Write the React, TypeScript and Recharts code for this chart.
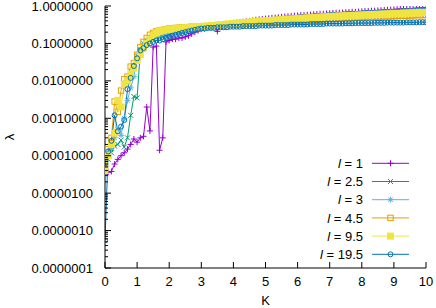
import { LineChart, Line, XAxis, YAxis } from 'recharts';

// K grid (x values)
const K = [
  0, 0.1, 0.2, 0.3, 0.4, 0.5, 0.6, 0.7, 0.8, 0.9,
  1, 1.1, 1.2, 1.3, 1.4, 1.5, 1.6, 1.7, 1.8, 1.9,
  2, 2.1, 2.2, 2.3, 2.4, 2.5, 2.6, 2.7, 2.8, 2.9,
  3, 3.1, 3.2, 3.3, 3.4, 3.5, 3.6, 3.7, 3.8, 3.9,
  4, 4.1, 4.2, 4.3, 4.4, 4.5, 4.6, 4.7, 4.8, 4.9,
  5, 5.1, 5.2, 5.3, 5.4, 5.5, 5.6, 5.7, 5.8, 5.9,
  6, 6.1, 6.2, 6.3, 6.4, 6.5, 6.6, 6.7, 6.8, 6.9,
  7, 7.1, 7.2, 7.3, 7.4, 7.5, 7.6, 7.7, 7.8, 7.9,
  8, 8.1, 8.2, 8.3, 8.4, 8.5, 8.6, 8.7, 8.8, 8.9,
  9, 9.1, 9.2, 9.3, 9.4, 9.5, 9.6, 9.7, 9.8, 9.9,
  10,
];

// lambda for each l
const L_1 = [
  3.0e-5, 3.6e-5, 3.8e-5, 6.0e-5, 8.0e-5, 1.0e-4, 1.2e-4, 1.5e-4, 2.0e-4, 2.8e-4,
  2.3e-4, 3.0e-4, 3.3e-4, 2.0e-3, 4.6e-4, 0.08, 0.085, 1.4e-4, 3.0e-4, 0.11,
  0.12, 0.13, 0.13, 0.14, 0.14, 0.15, 0.16, 0.18, 0.2, 0.22,
  0.24, 0.25, 0.27, 0.28, 0.29, 0.21, 0.31, 0.32, 0.33, 0.34,
  0.35, 0.36, 0.37, 0.38, 0.39, 0.4, 0.41, 0.43, 0.44, 0.45,
  0.46, 0.47, 0.48, 0.49, 0.5, 0.51, 0.52, 0.53, 0.54, 0.55,
  0.56, 0.57, 0.57, 0.58, 0.59, 0.6, 0.61, 0.62, 0.62, 0.63,
  0.64, 0.65, 0.66, 0.66, 0.67, 0.68, 0.69, 0.7, 0.7, 0.71,
  0.72, 0.73, 0.74, 0.75, 0.75, 0.76, 0.77, 0.78, 0.79, 0.8,
  0.81, 0.82, 0.83, 0.84, 0.85, 0.85, 0.86, 0.87, 0.88, 0.89,
  0.9,
];
const L_2_5 = [
  5.0e-5, 8.0e-5, 1.2e-4, 1.8e-4, 2.0e-4, 2.6e-4, 1.7e-4, 3.0e-4, 1.2e-3, 3.8e-3,
  3.5e-3, 0.06, 0.1, 0.11, 0.12, 0.13, 0.14, 0.15, 0.15, 0.16,
  0.17, 0.18, 0.19, 0.2, 0.2, 0.21, 0.22, 0.23, 0.24, 0.25,
  0.26, 0.27, 0.28, 0.28, 0.29, 0.3, 0.31, 0.32, 0.33, 0.33,
  0.34, 0.35, 0.36, 0.36, 0.37, 0.38, 0.39, 0.4, 0.4, 0.41,
  0.42, 0.43, 0.44, 0.44, 0.45, 0.46, 0.47, 0.48, 0.48, 0.49,
  0.5, 0.51, 0.52, 0.52, 0.53, 0.54, 0.55, 0.56, 0.56, 0.57,
  0.58, 0.59, 0.6, 0.6, 0.61, 0.62, 0.63, 0.63, 0.64, 0.64,
  0.65, 0.66, 0.67, 0.67, 0.68, 0.69, 0.7, 0.7, 0.71, 0.71,
  0.72, 0.73, 0.74, 0.74, 0.75, 0.76, 0.77, 0.77, 0.78, 0.79,
  0.8,
];
const L_3 = [
  3.0e-5, 1.0e-4, 1.6e-4, 3.0e-4, 5.0e-4, 3.5e-4, 1.0e-3, 3.0e-3, 6.5e-3, 0.013,
  0.05, 0.07, 0.1, 0.12, 0.14, 0.15, 0.16, 0.17, 0.17, 0.18,
  0.19, 0.19, 0.2, 0.21, 0.21, 0.22, 0.23, 0.24, 0.24, 0.25,
  0.26, 0.26, 0.27, 0.28, 0.28, 0.29, 0.3, 0.31, 0.31, 0.32,
  0.33, 0.34, 0.34, 0.35, 0.36, 0.37, 0.38, 0.38, 0.39, 0.4,
  0.41, 0.42, 0.42, 0.43, 0.44, 0.45, 0.46, 0.46, 0.47, 0.48,
  0.49, 0.49, 0.5, 0.51, 0.51, 0.52, 0.53, 0.54, 0.54, 0.55,
  0.56, 0.57, 0.57, 0.58, 0.59, 0.6, 0.6, 0.61, 0.62, 0.62,
  0.63, 0.64, 0.64, 0.65, 0.65, 0.66, 0.67, 0.67, 0.68, 0.69,
  0.7, 0.7, 0.71, 0.72, 0.72, 0.73, 0.74, 0.74, 0.75, 0.75,
  0.76,
];
const L_4_5 = [
  6.0e-5, 1.5e-4, 3.0e-4, 2.8e-3, 1.5e-3, 5.5e-3, 0.011, 0.013, 0.024, 0.03,
  0.05, 0.08, 0.11, 0.14, 0.17, 0.19, 0.21, 0.22, 0.23, 0.24,
  0.25, 0.25, 0.26, 0.26, 0.27, 0.27, 0.27, 0.28, 0.28, 0.28,
  0.28, 0.28, 0.29, 0.29, 0.3, 0.3, 0.3, 0.31, 0.31, 0.32,
  0.32, 0.32, 0.33, 0.33, 0.34, 0.34, 0.35, 0.35, 0.35, 0.36,
  0.36, 0.37, 0.37, 0.38, 0.38, 0.39, 0.39, 0.39, 0.4, 0.4,
  0.41, 0.41, 0.42, 0.42, 0.42, 0.43, 0.43, 0.44, 0.44, 0.45,
  0.45, 0.46, 0.46, 0.47, 0.47, 0.48, 0.48, 0.48, 0.49, 0.49,
  0.5, 0.5, 0.51, 0.51, 0.51, 0.52, 0.52, 0.53, 0.53, 0.53,
  0.54, 0.54, 0.55, 0.55, 0.55, 0.56, 0.56, 0.57, 0.57, 0.57,
  0.58,
];
const L_9_5 = [
  4.0e-5, 1.0e-4, 2.0e-4, 4.0e-4, 3.0e-3, 2.0e-3, 8.0e-3, 0.01, 0.015, 0.022,
  0.035, 0.05, 0.075, 0.1, 0.13, 0.16, 0.19, 0.21, 0.22, 0.23,
  0.24, 0.24, 0.25, 0.25, 0.26, 0.26, 0.27, 0.27, 0.28, 0.28,
  0.28, 0.29, 0.29, 0.3, 0.3, 0.31, 0.32, 0.32, 0.33, 0.33,
  0.34, 0.35, 0.35, 0.36, 0.36, 0.37, 0.38, 0.38, 0.39, 0.39,
  0.4, 0.41, 0.41, 0.42, 0.42, 0.43, 0.44, 0.44, 0.45, 0.45,
  0.46, 0.47, 0.47, 0.48, 0.48, 0.49, 0.5, 0.5, 0.51, 0.51,
  0.52, 0.53, 0.53, 0.54, 0.54, 0.55, 0.55, 0.56, 0.56, 0.57,
  0.57, 0.58, 0.58, 0.59, 0.59, 0.6, 0.6, 0.61, 0.61, 0.62,
  0.62, 0.63, 0.63, 0.64, 0.64, 0.65, 0.65, 0.66, 0.66, 0.67,
  0.67,
];
const L_19_5 = [
  5.5e-7, 1.3e-4, 2.5e-4, 1.2e-3, 4.5e-4, 6.0e-4, 9.0e-4, 6.0e-3, 0.012, 0.025,
  0.04, 0.065, 0.075, 0.09, 0.1, 0.11, 0.12, 0.12, 0.13, 0.14,
  0.15, 0.16, 0.17, 0.18, 0.19, 0.2, 0.21, 0.22, 0.23, 0.24,
  0.25, 0.25, 0.26, 0.26, 0.26, 0.27, 0.27, 0.27, 0.27, 0.28,
  0.28, 0.28, 0.28, 0.29, 0.29, 0.29, 0.29, 0.29, 0.3, 0.3,
  0.3, 0.3, 0.3, 0.31, 0.31, 0.31, 0.31, 0.31, 0.32, 0.32,
  0.32, 0.32, 0.32, 0.32, 0.33, 0.33, 0.33, 0.33, 0.33, 0.34,
  0.34, 0.34, 0.34, 0.34, 0.34, 0.345, 0.345, 0.345, 0.35, 0.35,
  0.35, 0.35, 0.35, 0.35, 0.355, 0.355, 0.355, 0.355, 0.36, 0.36,
  0.36, 0.36, 0.36, 0.36, 0.365, 0.365, 0.365, 0.365, 0.37, 0.37,
  0.37,
];

const X_TICKS = [0, 1, 2, 3, 4, 5, 6, 7, 8, 9, 10];
const Y_MAJOR = [1e-7, 1e-6, 1e-5, 1e-4, 1e-3, 1e-2, 1e-1, 1];
const Y_MINOR = Y_MAJOR.slice(0, -1).flatMap((d) => [2, 3, 4, 5, 6, 7, 8, 9].map((m) => m * d));
const Y_TICKS = [...Y_MAJOR, ...Y_MINOR];

const SERIES = [
  { key: 'l1', label: '1', color: '#9400d3', marker: 'plus', values: L_1 },
  { key: 'l25', label: '2.5', color: '#009e73', marker: 'cross', values: L_2_5 },
  { key: 'l3', label: '3', color: '#56b4e9', marker: 'star', values: L_3 },
  { key: 'l45', label: '4.5', color: '#e69f00', marker: 'square', values: L_4_5 },
  { key: 'l95', label: '9.5', color: '#f0e442', marker: 'fsquare', values: L_9_5 },
  { key: 'l195', label: '19.5', color: '#0072b2', marker: 'circle', values: L_19_5 },
];

const rows = K.map((k, i) => {
  const r: Record<string, number> = { k };
  SERIES.forEach((s) => { r[s.key] = s.values[i]; });
  return r;
});

const FONT = '"Liberation Sans", Arial, sans-serif';

const Marker = ({ x, y, type, color }: { x: number; y: number; type: string; color: string }) => {
  const a = 3;
  if (type === 'plus') return <g stroke={color}><line x1={x - a} x2={x + a} y1={y} y2={y} /><line x1={x} x2={x} y1={y - a} y2={y + a} /></g>;
  if (type === 'cross') return <g stroke={color}><line x1={x - 2.5} x2={x + 2.5} y1={y - 2.5} y2={y + 2.5} /><line x1={x - 2.5} x2={x + 2.5} y1={y + 2.5} y2={y - 2.5} /></g>;
  if (type === 'star') return <g stroke={color}><line x1={x - a} x2={x + a} y1={y} y2={y} /><line x1={x} x2={x} y1={y - a} y2={y + a} /><line x1={x - 2.2} x2={x + 2.2} y1={y - 2.2} y2={y + 2.2} /><line x1={x - 2.2} x2={x + 2.2} y1={y + 2.2} y2={y - 2.2} /></g>;
  if (type === 'square') return <rect x={x - 2.7} y={y - 2.7} width={5.4} height={5.4} fill="none" stroke={color} />;
  if (type === 'fsquare') return <rect x={x - 3} y={y - 3} width={6} height={6} fill={color} stroke={color} />;
  return <circle cx={x} cy={y} r={2.5} fill="none" stroke={color} />;
};

const YTick = (props: any) => {
  const { x, y, payload, side } = props;
  const v = payload.value;
  const major = Y_MAJOR.includes(v);
  const len = major ? 6 : 3;
  const x2 = side === 'left' ? x + len : x - len;
  return (
    <g>
      <line x1={x} x2={x2} y1={y} y2={y} stroke="#000" />
      {side === 'left' && major && (
        <text x={x - 12} y={y + 4.6} textAnchor="end" fontSize={13} fontFamily={FONT} fill="#000">
          {v.toFixed(7)}
        </text>
      )}
    </g>
  );
};

const XTick = (props: any) => {
  const { x, y, payload, side } = props;
  const inner = side === 'bottom' ? y - 6 : y + 6;
  const show = side === 'bottom' || (payload.value > 0 && payload.value < 10);
  return (
    <g>
      {show && <line x1={x} x2={x} y1={y} y2={inner} stroke="#000" />}
      {side === 'bottom' && (
        <text x={x} y={y + 18} textAnchor="middle" fontSize={13} fontFamily={FONT} fill="#000">
          {payload.value}
        </text>
      )}
    </g>
  );
};

const LambdaLabel = (props: any) => {
  const vb = props.viewBox || { x: 0, y: 6, height: 262 };
  const cx = vb.x + 9;
  const cy = vb.y + vb.height / 2;
  return (
    <text x={cx} y={cy} transform={`rotate(-90 ${cx} ${cy})`} textAnchor="middle" dominantBaseline="central" fontSize={13} fontFamily={FONT} fill="#000">
      λ
    </text>
  );
};

const LegendBox = () => (
  <svg width={436} height={308} style={{ position: 'absolute', left: 0, top: 0, pointerEvents: 'none' }}>
    {SERIES.map((s, i) => {
      const y = 163.3 + i * 18.2;
      return (
        <g key={s.key}>
          <text x={363} y={y + 4.6} textAnchor="end" fontSize={13} fontFamily={FONT} fill="#000">
            <tspan fontStyle="italic">l</tspan> = {s.label}
          </text>
          <line x1={372} x2={409} y1={y} y2={y} stroke={s.color} />
          <Marker x={390.5} y={y} type={s.marker} color={s.color} />
        </g>
      );
    })}
  </svg>
);

export default function App() {
  return (
    <div style={{ position: 'fixed', left: 0, top: 0, width: 436, height: 308, background: '#fff', fontFamily: FONT }}>
      <LineChart width={436} height={308} data={rows} margin={{ top: 6, right: 10, bottom: 0, left: 0 }}>
        <XAxis
          dataKey="k" type="number" domain={[0, 10]} ticks={X_TICKS} interval={0}
          height={40} tickSize={0} tickMargin={0} stroke="#000" allowDataOverflow
          tick={<XTick side="bottom" />}
          label={{ value: 'K', position: 'insideBottom', offset: 3, fontSize: 13, fill: '#000' }}
        />
        <XAxis
          xAxisId="t" orientation="top" type="number" domain={[0, 10]} ticks={X_TICKS} interval={0}
          height={0} tickSize={0} tickMargin={0} stroke="#000" allowDataOverflow
          tick={<XTick side="top" />}
        />
        <YAxis
          type="number" scale="log" domain={[1e-7, 1]} ticks={Y_TICKS} interval={0} allowDataOverflow
          width={105} tickSize={0} tickMargin={0} stroke="#000"
          tick={<YTick side="left" />}
          label={<LambdaLabel />}
        />
        <YAxis
          yAxisId="r" orientation="right" type="number" scale="log" domain={[1e-7, 1]} ticks={Y_TICKS} interval={0} allowDataOverflow
          width={0} tickSize={0} tickMargin={0} stroke="#000"
          tick={<YTick side="right" />}
        />
        {SERIES.map((s) => (
          <Line
            key={s.key}
            dataKey={s.key}
            stroke={s.color}
            strokeWidth={1}
            type="linear"
            isAnimationActive={false}
            activeDot={false}
            dot={(p: any) => <Marker key={`${s.key}-${p.index}`} x={p.cx} y={p.cy} type={s.marker} color={s.color} />}
          />
        ))}
      </LineChart>
      <LegendBox />
    </div>
  );
}
